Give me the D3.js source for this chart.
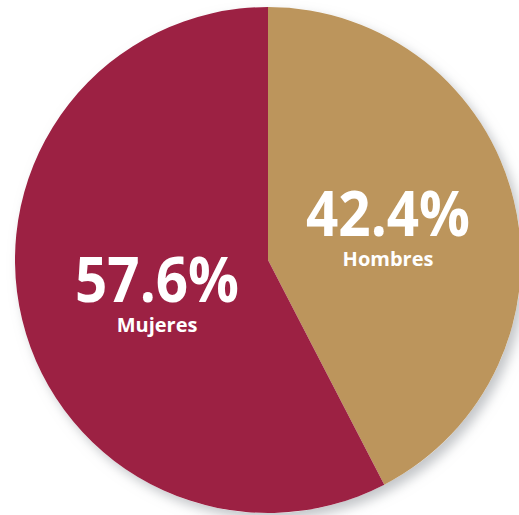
<!DOCTYPE html>
<html><head><meta charset="utf-8">
<script src="https://cdn.jsdelivr.net/npm/d3@7"></script>
<style>html,body{margin:0;padding:0;background:#fff;}svg{display:block;}</style>
</head><body>
<svg id="chart" width="519" height="515"></svg>
<script>
const categories = ["Hombres", "Mujeres"];
const values = [42.4, 57.6];
const labels = ["42.4%", "57.6%"];
const colors = ["#BC955C", "#9C2143"];

const svg = d3.select("#chart");
const cx = 268, cy = 260, r = 253;

const defs = svg.append("defs");
const f = defs.append("filter").attr("id","sh").attr("x","-20%").attr("y","-20%").attr("width","140%").attr("height","140%");
f.append("feDropShadow").attr("dx",5).attr("dy",6).attr("stdDeviation",6).attr("flood-color","#9a9ea3").attr("flood-opacity",0.6);

const pie = d3.pie().sort(null).value(d => d)(values);
const arc = d3.arc().innerRadius(0).outerRadius(r);
const g = svg.append("g").attr("transform",`translate(${cx},${cy})`);
g.append("circle").attr("r", r).attr("fill","#fff").attr("filter","url(#sh)");
g.selectAll("path").data(pie).join("path")
  .attr("d", arc).attr("fill",(d,i)=>colors[i]);

const pos = [[120, -24], [-111, 42]];
const font = "'Open Sans', sans-serif";
pie.forEach((d,i)=>{
  g.append("text").attr("x",pos[i][0]).attr("y",pos[i][1])
    .attr("text-anchor","middle").attr("fill","#fff")
    .attr("font-family",font).attr("font-weight",700).attr("font-size",63)
    .attr("textLength",164).attr("lengthAdjust","spacingAndGlyphs")
    .text(labels[i]);
  g.append("text").attr("x",pos[i][0]).attr("y",pos[i][1]+30)
    .attr("text-anchor","middle").attr("fill","#fff")
    .attr("font-family",font).attr("font-weight",700).attr("font-size",20)
    .text(categories[i]);
});
</script>
</body></html>
